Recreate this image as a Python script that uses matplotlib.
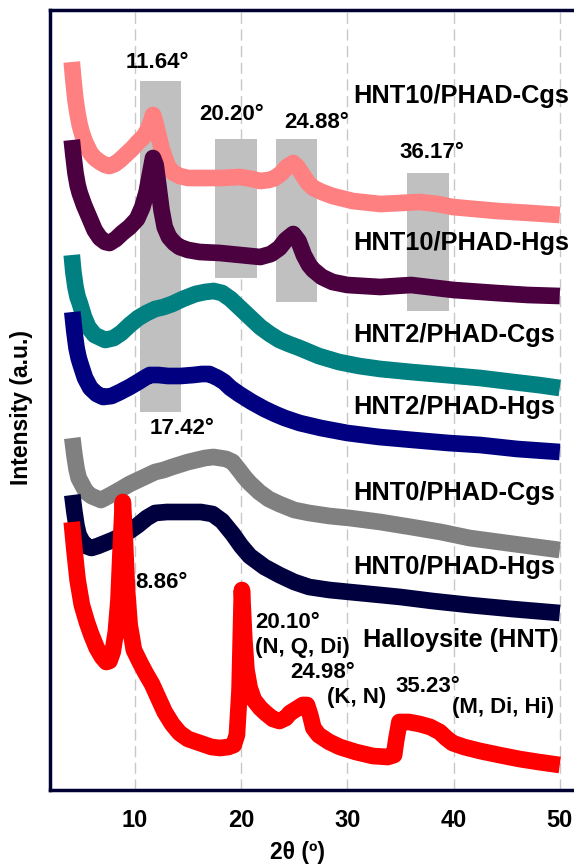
import matplotlib
matplotlib.use("Agg")
import matplotlib.pyplot as plt
from matplotlib.patches import Rectangle

# 2-theta positions and intensities (a.u., stacked offsets)
tt_c10 = [4.05, 4.2, 4.4, 4.6, 4.8, 5.0, 5.3, 5.8, 6.2, 6.7, 7.2, 7.6, 8.1, 8.6, 9.2, 9.8, 10.3,
          10.8, 11.2, 11.5, 11.7, 11.9, 12.2, 12.5, 12.8, 13.1, 13.5, 14.2, 15.0, 16.1, 18.0,
          19.9, 21.0, 21.8, 22.6, 23.2, 23.8, 24.3, 24.9, 25.3, 25.8, 26.3, 26.8, 27.6, 28.6,
          30.5, 33.1, 35.0, 36.8, 38.5, 39.9, 44.1, 47.2, 50.0]
hnt10_cgs = [728, 710, 690, 676, 665, 657, 648, 637, 632, 628, 625, 624, 626, 630, 636, 642, 648,
             653, 660, 668, 675, 668, 655, 642, 632, 624, 618, 614, 612, 612, 612,
             613, 611, 609, 610, 612, 617, 623, 627, 623, 615, 607, 602, 598, 594,
             589, 586, 587, 588, 586, 583, 579, 577, 575]

tt_h10 = [4.05, 4.2, 4.4, 4.6, 4.8, 5.2, 5.8, 6.2, 6.7, 7.2, 7.6, 8.2, 8.8, 9.5, 10.2, 10.7,
          11.1, 11.4, 11.7, 11.95, 12.2, 12.5, 12.8, 13.2, 13.7, 14.2, 15.0, 16.1, 18.0, 19.9,
          21.8, 22.8, 23.6, 24.2, 24.9, 25.4, 25.9, 26.4, 26.8, 27.6, 28.6, 30.0, 33.1, 36.0,
          40.0, 44.0, 47.0, 50.0]
hnt10_hgs = [650, 635, 617, 605, 597, 585, 570, 560, 552, 548, 547, 551, 557, 563, 571, 583,
             598, 615, 632, 625, 605, 580, 563, 553, 547, 543, 540, 538, 537, 535,
             533, 536, 542, 550, 556, 549, 535, 525, 520, 513, 508, 505, 503, 505,
             500, 497, 495, 494]

tt_c2 = [4.05, 4.2, 4.4, 4.6, 4.8, 5.2, 5.6, 6.2, 7.2, 8.0, 8.7, 9.5, 10.3, 11.1, 11.9, 12.7,
         13.5, 14.5, 15.7, 16.6, 17.4, 18.2, 19.0, 19.9, 20.9, 21.8, 22.7, 23.6, 24.5, 25.5,
         27.3, 29.2, 31.1, 33.1, 36.0, 39.3, 42.5, 45.6, 48.0, 50.0]
hnt2_cgs = [535, 518, 503, 493, 487, 473, 463, 455, 450, 452, 457, 465, 472, 477, 481, 483,
            486, 491, 496, 498, 499, 497, 491, 482, 472, 463, 456, 450, 446, 442,
            434, 428, 424, 421, 418, 415, 412, 408, 405, 402]

tt_h2 = [4.1, 4.3, 4.5, 4.7, 4.9, 5.3, 5.8, 6.4, 7.0, 7.8, 8.6, 9.5, 10.3, 10.9, 11.4, 12.2,
         13.1, 14.3, 15.5, 16.3, 17.0, 17.8, 18.4, 19.0, 19.8, 21.0, 22.2, 23.2, 24.1, 25.5,
         27.5, 30.0, 33.0, 36.2, 39.5, 42.5, 46.0, 50.0]
hnt2_hgs = [478, 458, 442, 432, 425, 412, 402, 396, 393, 394, 398, 403, 408, 412, 415, 415,
            414, 414, 415, 416, 416, 412, 408, 402, 396, 388, 381, 376, 372, 367,
            362, 357, 353, 350, 347, 345, 341, 338]

tt_c0 = [4.1, 4.3, 4.5, 4.7, 5.0, 5.4, 5.9, 6.8, 7.7, 8.7, 9.5, 10.3, 11.1, 11.9, 12.7, 13.5,
         15.0, 16.6, 17.4, 18.0, 18.6, 19.2, 19.8, 20.3, 20.8, 21.7, 22.6, 23.6, 25.0, 26.4,
         28.3, 30.2, 33.1, 36.0, 38.8, 41.5, 45.7, 50.0]
hnt0_cgs = [352, 335, 321, 312, 306, 298, 294, 290, 295, 301, 306, 310, 314, 318, 320, 323,
            328, 332, 333, 332, 331, 328, 320, 313, 307, 298, 291, 286, 280, 277,
            274, 272, 268, 263, 258, 252, 246, 240]

tt_h0 = [4.1, 4.3, 4.5, 4.7, 5.0, 5.4, 5.9, 6.5, 7.2, 7.9, 8.7, 9.5, 10.3, 11.1, 11.9, 13.0,
         15.0, 16.2, 17.3, 18.2, 19.2, 20.0, 20.8, 22.2, 23.6, 25.0, 26.4, 28.3, 30.2, 33.1,
         35.0, 38.0, 41.5, 45.5, 50.0]
hnt0_hgs = [295, 278, 264, 255, 249, 244, 242, 244, 247, 250, 254, 259, 265, 272, 277, 278,
            278, 278, 276, 269, 256, 244, 234, 223, 215, 208, 203, 200, 198, 195,
            193, 189, 185, 181, 177]

tt_hnt = [4.05, 4.3, 4.6, 5.0, 5.5, 5.9, 6.4, 6.9, 7.3, 7.6, 7.9, 8.2, 8.45, 8.65, 8.86, 9.05,
          9.25, 9.5, 9.9, 10.5, 11.0, 11.6, 12.2, 12.8, 13.5, 14.2, 15.0, 16.1, 17.2, 18.0,
          18.8, 19.3, 19.6, 19.85, 20.07, 20.3, 20.5, 20.8, 21.2, 21.8, 22.3, 23.0, 23.6,
          24.2, 24.6, 25.2, 25.8, 26.2, 26.5, 26.8, 27.3, 28.3, 29.3, 30.8, 32.4, 33.8, 34.4,
          34.6, 34.9, 35.8, 36.8, 37.8, 38.7, 39.3, 39.9, 41.0, 42.5, 44.3, 46.2, 48.0, 50.0]
halloysite = [268, 240, 210, 185, 167, 155, 142, 133, 128, 129, 138, 158, 190, 240, 288, 250,
              200, 165, 140, 127, 117, 106, 92, 78, 66, 57, 51, 47, 43, 42,
              43, 45, 55, 100, 200, 150, 120, 102, 90, 82, 77, 71, 69,
              72, 77, 81, 85, 85, 75, 62, 55, 48, 43, 38, 34, 33, 35,
              50, 68, 68, 66, 63, 58, 52, 47, 43, 39, 35, 31, 28, 25]

series = [
    (tt_c10, hnt10_cgs, "#FF8080", "HNT10/PHAD-Cgs"),
    (tt_h10, hnt10_hgs, "#4B0040", "HNT10/PHAD-Hgs"),
    (tt_c2, hnt2_cgs, "#008080", "HNT2/PHAD-Cgs"),
    (tt_h2, hnt2_hgs, "#000080", "HNT2/PHAD-Hgs"),
    (tt_c0, hnt0_cgs, "#808080", "HNT0/PHAD-Cgs"),
    (tt_h0, hnt0_hgs, "#00003F", "HNT0/PHAD-Hgs"),
    (tt_hnt, halloysite, "#FF0000", "Halloysite (HNT)"),
]
name_y = [694, 547, 455, 383, 297, 223, 150]

# highlighted peak regions (2theta from, to, intensity from, to)
box_lo = [10.47, 17.53, 23.28, 35.6]
box_hi = [14.33, 21.49, 27.14, 39.57]
box_bot = [378, 512, 488, 479]
box_top = [709, 651, 651, 617]

plt.rcParams['font.family'] = ['Liberation Sans', 'DejaVu Sans']
plt.rcParams['font.weight'] = 'bold'

fig = plt.figure(figsize=(5.74, 8.65), dpi=100)
ax = fig.add_axes([50 / 574, 75 / 865, 524 / 574, 780 / 865])

for lo, hi, b, t in zip(box_lo, box_hi, box_bot, box_top):
    ax.add_patch(Rectangle((lo, b), hi - lo, t - b, facecolor="#C0C0C0", edgecolor="none", zorder=1))

for x in [10, 20, 30, 40, 50]:
    ax.axvline(x, color="#C8C8C8", lw=1, ls=(0, (8, 4)), zorder=0.5)

for (tt, yy, c, name), ny in zip(series, name_y):
    ax.plot(tt, yy, color=c, lw=12, solid_joinstyle="round", solid_capstyle="butt", zorder=3)
    x0 = 31.47 if name.startswith("Halloysite") else 30.53
    ax.text(x0, ny, name, fontsize=18.3, fontweight="bold", va="center", ha="left", zorder=5)

peak_labels = [
    (9.15, 727, "11.64°"), (16.03, 675, "20.20°"), (24.03, 667, "24.88°"), (34.95, 637, "36.17°"),
    (11.41, 362, "17.42°"), (10.0, 208, "8.86°"), (21.3, 168, "20.10°"), (21.3, 143, "(N, Q, Di)"),
    (24.6, 117, "24.98°"), (28.08, 93, "(K, N)"), (34.48, 103, "35.23°"), (39.85, 83, "(M, Di, Hi)"),
]
for x, y, s in peak_labels:
    ax.text(x, y, s, fontsize=16, fontweight="bold", va="center", ha="left", zorder=5)

ax.set_xlim(2.0, 51.34)
ax.set_ylim(0, 780)
ax.set_yticks([])
ax.set_xticks([10, 20, 30, 40, 50])
ax.tick_params(axis="x", length=0, pad=14, labelsize=17)
for lab in ax.get_xticklabels():
    lab.set_fontweight("bold")

for side in ["left", "top", "bottom"]:
    ax.spines[side].set_linewidth(2.5)
    ax.spines[side].set_color("#000033")
ax.spines["right"].set_visible(False)

ax.set_xlabel("2θ (º)", fontsize=16.5, fontweight="bold")
ax.xaxis.set_label_coords((297 - 50) / 524, -0.065)
ax.set_ylabel("Intensity (a.u.)", fontsize=16.5, fontweight="bold")
ax.yaxis.set_label_coords(-0.032, 0.49)

fig.savefig("out.png", dpi=100)
